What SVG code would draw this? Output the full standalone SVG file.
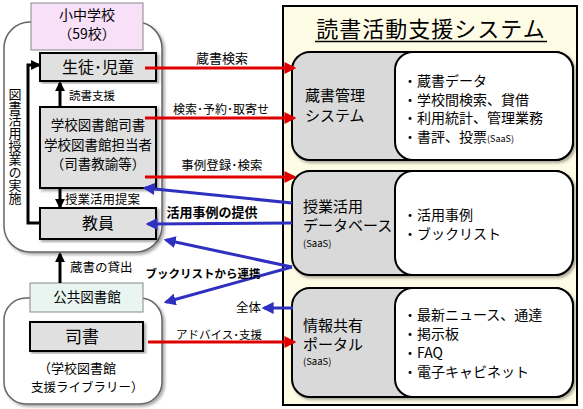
<svg xmlns="http://www.w3.org/2000/svg" width="583" height="409" viewBox="0 0 583 409">
<defs>
<style>
text{font-family:"Noto Sans CJK JP","Noto Sans",sans-serif;fill:#000}
.box{fill:#e0e0e0;stroke:#000;stroke-width:2}
.cont{fill:#fff;stroke:#666;stroke-width:1.5}
.mod{fill:#d9d9d9;stroke:#000;stroke-width:2}
.inner{fill:#fff;stroke:#000;stroke-width:2}
.red{stroke:#e00000;stroke-width:3;fill:none}
.blue{stroke:#3030c0;stroke-width:3;fill:none}
.blk{stroke:#000;stroke-width:3;fill:none}
.c{text-anchor:middle}
</style>
<filter id="sh" x="-10%" y="-10%" width="120%" height="120%"><feDropShadow dx="2" dy="2" stdDeviation="1.5" flood-color="#000" flood-opacity="0.35"/></filter>
<marker id="ar" viewBox="0 0 10 10" refX="8" refY="5" markerWidth="4" markerHeight="4" orient="auto" markerUnits="strokeWidth"><path d="M0,0 L10,5 L0,10 z" fill="#e00000"/></marker>
<marker id="ab" viewBox="0 0 10 10" refX="8" refY="5" markerWidth="4" markerHeight="4" orient="auto" markerUnits="strokeWidth"><path d="M0,0 L10,5 L0,10 z" fill="#3030c0"/></marker>
<marker id="ak" viewBox="0 0 10 10" refX="8" refY="5" markerWidth="3.3" markerHeight="3.3" orient="auto" markerUnits="strokeWidth"><path d="M0,0 L10,5 L0,10 z" fill="#000"/></marker>
</defs>

<g id="school">
<rect class="cont" x="4" y="22" width="158" height="230" rx="26" filter="url(#sh)"/>
<rect x="31" y="3" width="112" height="47" fill="#f8e0f8" stroke="#888" stroke-width="1"/>
<text class="c" x="87" y="20" font-size="14">小中学校</text>
<text class="c" x="87" y="39" font-size="14">（59校）</text>
<text x="15" y="88" font-size="13" style="writing-mode:vertical-rl">図書活用授業の実施</text>
</g>

<g id="students">
<rect class="box" x="40" y="53" width="116" height="28" filter="url(#sh)"/>
<text class="c" x="98" y="73" font-size="16">生徒･児童</text>
</g>

<g id="librarian">
<rect class="box" x="40" y="107" width="116" height="81" filter="url(#sh)"/>
<text class="c" x="98" y="130" font-size="13.5">学校図書館司書</text>
<text class="c" x="98" y="149.5" font-size="13.5">学校図書館担当者</text>
<text class="c" x="98" y="169" font-size="13.5">（司書教諭等）</text>
</g>

<g id="teacher">
<rect class="box" x="40" y="208" width="116" height="31" filter="url(#sh)"/>
<text class="c" x="98" y="229" font-size="16">教員</text>
</g>

<g id="public">
<rect class="cont" x="4" y="298" width="158" height="106" rx="22" filter="url(#sh)"/>
<rect x="30" y="283" width="113" height="29" fill="#e8f5f0" stroke="#888" stroke-width="1"/>
<text class="c" x="87" y="302" font-size="13.5">公共図書館</text>
<text x="38" y="373" font-size="13">（学校図書館</text>
<text x="31" y="392" font-size="12.5">支援ライブラリー）</text>
</g>

<g id="shisho">
<rect class="box" x="30" y="322" width="113" height="29" filter="url(#sh)"/>
<text class="c" x="82" y="343" font-size="17">司書</text>
</g>

<g id="system">
<rect x="283" y="6" width="294" height="399" fill="#fffce6" stroke="#000" stroke-width="2"/>
<text class="c" x="431" y="37" font-size="22" letter-spacing="1">読書活動支援システム</text>
<line x1="315" y1="41.5" x2="547" y2="41.5" stroke="#000" stroke-width="1.5"/>
</g>

<g id="mod1">
<rect class="mod" x="292" y="52" width="281" height="108" rx="18" filter="url(#sh)"/>
<rect class="inner" x="395" y="52" width="178" height="108" rx="18"/>
<text x="305" y="101" font-size="15">蔵書管理</text>
<text x="305" y="121" font-size="15">システム</text>
<text x="403" y="86" font-size="14">・蔵書データ</text>
<text x="403" y="104.5" font-size="14">・学校間検索、貸借</text>
<text x="403" y="123" font-size="14">・利用統計、管理業務</text>
<text x="403" y="142" font-size="14">・書評、投票<tspan font-size="9">(SaaS)</tspan></text>
</g>

<g id="mod2">
<rect class="mod" x="292" y="171" width="281" height="104" rx="18" filter="url(#sh)"/>
<rect class="inner" x="395" y="171" width="178" height="104" rx="18"/>
<text x="303" y="212" font-size="15">授業活用</text>
<text x="303" y="231" font-size="15">データベース</text>
<text x="303" y="247" font-size="9.5">(SaaS)</text>
<text x="403" y="220" font-size="14">・活用事例</text>
<text x="403" y="239" font-size="14">・ブックリスト</text>
</g>

<g id="mod3">
<rect class="mod" x="292" y="288" width="281" height="109" rx="18" filter="url(#sh)"/>
<rect class="inner" x="395" y="288" width="178" height="109" rx="18"/>
<text x="303" y="331" font-size="15">情報共有</text>
<text x="303" y="350" font-size="15">ポータル</text>
<text x="303" y="365" font-size="9.5">(SaaS)</text>
<text x="403" y="320" font-size="14">・最新ニュース、通達</text>
<text x="403" y="339" font-size="14">・掲示板</text>
<text x="403" y="358" font-size="14">・FAQ</text>
<text x="403" y="377" font-size="14">・電子キャビネット</text>
</g>

<g id="connectors">
<polyline class="blk" points="40,223 28,223 28,65 39,65" marker-end="url(#ak)"/>
<line class="blk" x1="60" y1="107" x2="60" y2="83" marker-end="url(#ak)"/>
<line class="blk" x1="60" y1="188" x2="60" y2="207" marker-end="url(#ak)"/>
<line class="blk" x1="60" y1="283" x2="60" y2="254" marker-end="url(#ak)"/>

<line class="red" x1="145" y1="68" x2="294" y2="68" marker-end="url(#ar)"/>
<line class="red" x1="145" y1="118" x2="294" y2="118" marker-end="url(#ar)"/>
<line class="red" x1="145" y1="177" x2="294" y2="177" marker-end="url(#ar)"/>
<line class="red" x1="148" y1="342" x2="294" y2="342" marker-end="url(#ar)"/>

<line class="blue" x1="292" y1="203" x2="145" y2="188" marker-end="url(#ab)"/>
<line class="blue" x1="292" y1="223" x2="148" y2="224" marker-end="url(#ab)"/>
<line class="blue" x1="292" y1="267" x2="166" y2="240" marker-end="url(#ab)"/>
<line class="blue" x1="292" y1="267" x2="166" y2="302" marker-end="url(#ab)"/>
<line class="blue" x1="293" y1="308" x2="264" y2="308" marker-end="url(#ab)"/>

<text x="69" y="100" font-size="11.5">読書支援</text>
<text x="65" y="204" font-size="12.5">授業活用提案</text>
<text x="70" y="272" font-size="12.5">蔵書の貸出</text>
<text class="c" x="222" y="63" font-size="13">蔵書検索</text>
<text class="c" x="221" y="114" font-size="12">検索･予約･取寄せ</text>
<text class="c" x="222" y="170" font-size="12.5">事例登録･検索</text>
<text class="c" x="212" y="217" font-size="13" font-weight="bold">活用事例の提供</text>
<text class="c" x="203" y="278" font-size="11.5" font-weight="bold">ブックリストから連携</text>
<text x="261" y="312" font-size="12.5" text-anchor="end">全体</text>
<text class="c" x="219" y="339" font-size="11.5">アドバイス･支援</text>
</g>
</svg>
